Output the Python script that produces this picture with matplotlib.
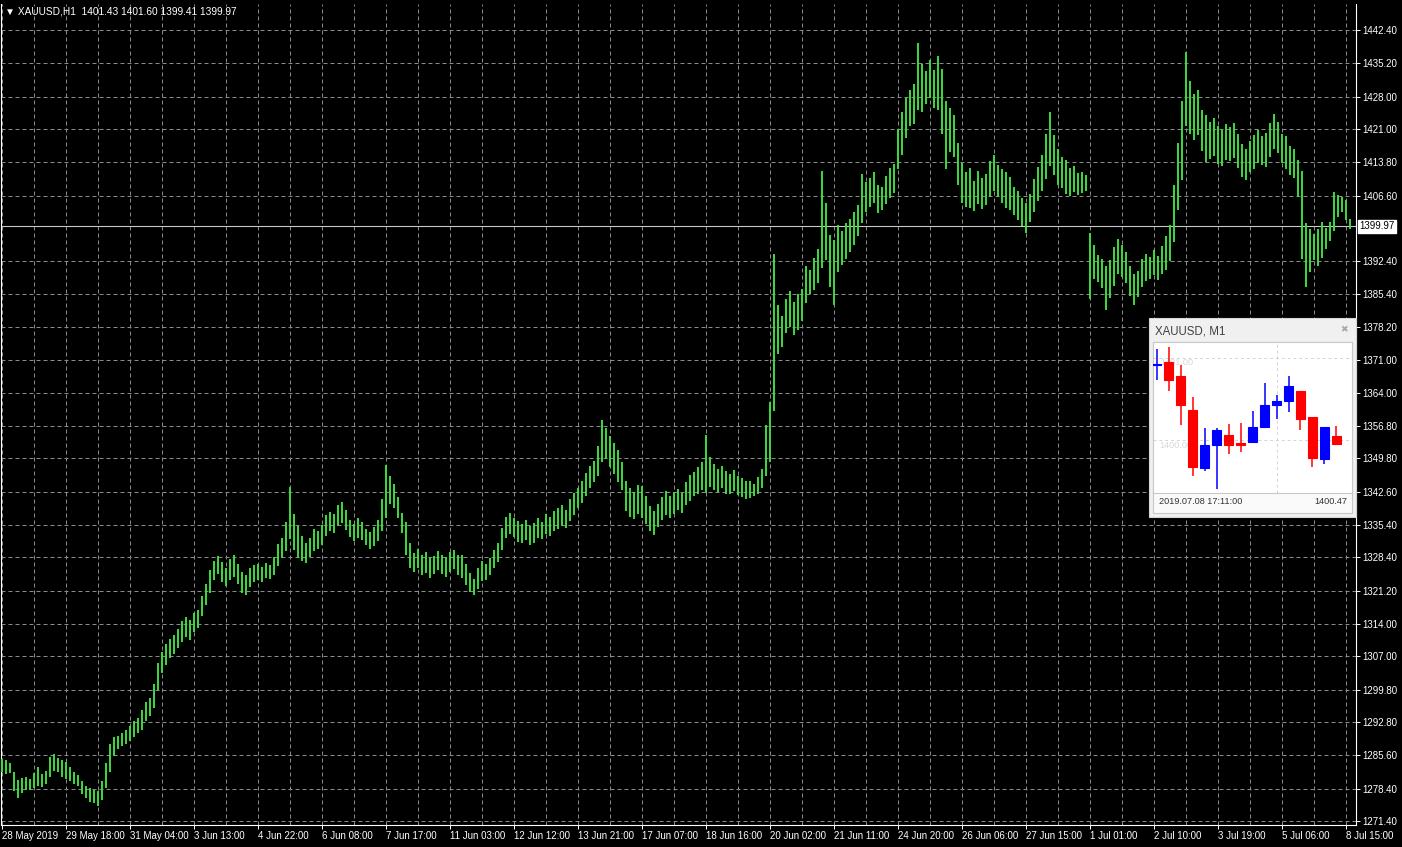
import numpy as np
import matplotlib.pyplot as plt
from matplotlib.patches import Rectangle
from matplotlib.transforms import blended_transform_factory

plt.rcParams['font.family'] = ['Liberation Sans', 'DejaVu Sans']

# XAUUSD H1 - highs / lows, one bar every 2 hours
high = [
    1284.8, 1284.5, 1284.0, 1282.0, 1280.2, 1280.6, 1280.9, 1280.4, 1281.8, 1283.0, 1281.5, 1282.2, 1285.2, 1285.8, 1285.0, 1284.6,
    1284.2, 1283.0, 1282.0, 1281.4, 1280.0, 1279.0, 1278.6, 1278.2, 1277.8, 1280.0, 1284.0, 1288.0, 1289.6, 1289.8, 1290.4, 1291.0,
    1292.0, 1293.0, 1293.6, 1295.4, 1297.2, 1298.0, 1301.0, 1305.6, 1308.0, 1309.6, 1310.8, 1311.6, 1313.0, 1314.6, 1315.4, 1314.8,
    1316.4, 1317.0, 1320.0, 1322.6, 1325.6, 1327.6, 1328.6, 1327.4, 1326.0, 1328.0, 1328.8, 1327.0, 1325.2, 1324.6, 1326.0, 1326.8,
    1327.0, 1326.4, 1327.2, 1326.8, 1328.4, 1331.2, 1332.6, 1336.0, 1343.6, 1337.8, 1335.2, 1333.0, 1331.6, 1332.6, 1334.6, 1334.0,
    1335.4, 1337.6, 1338.2, 1337.8, 1339.8, 1340.4, 1338.6, 1336.4, 1335.6, 1336.8, 1336.0, 1334.6, 1333.8, 1335.0, 1336.4, 1341.0,
    1348.4, 1346.0, 1344.2, 1341.4, 1338.0, 1336.0, 1331.4, 1329.4, 1330.2, 1328.8, 1329.6, 1328.2, 1328.6, 1329.8, 1329.0, 1328.4,
    1329.6, 1330.0, 1329.0, 1328.8, 1327.0, 1325.0, 1323.8, 1326.0, 1327.6, 1327.0, 1328.2, 1330.0, 1331.4, 1334.8, 1337.2, 1338.0,
    1337.0, 1336.2, 1335.6, 1336.4, 1335.2, 1335.8, 1336.8, 1336.0, 1337.8, 1337.2, 1338.4, 1339.0, 1339.8, 1338.6, 1341.0, 1342.4,
    1343.4, 1345.0, 1346.6, 1348.2, 1349.2, 1352.4, 1358.0, 1356.4, 1354.6, 1353.2, 1351.6, 1349.0, 1345.0, 1343.4, 1342.6, 1344.0,
    1343.8, 1341.6, 1339.4, 1338.4, 1340.0, 1341.4, 1342.8, 1341.6, 1342.6, 1343.2, 1342.4, 1344.6, 1346.2, 1346.8, 1348.0, 1349.0,
    1354.8, 1350.0, 1348.6, 1347.4, 1348.2, 1347.0, 1346.4, 1347.2, 1346.0, 1345.6, 1345.0, 1344.8, 1344.2, 1345.8, 1347.6, 1357.0,
    1362.0, 1394.0, 1383.0, 1380.6, 1384.2, 1386.0, 1383.6, 1385.4, 1386.4, 1391.4, 1390.6, 1393.2, 1395.0, 1412.0, 1405.0, 1398.0,
    1397.0, 1400.2, 1399.0, 1400.6, 1401.6, 1403.0, 1404.6, 1411.2, 1409.6, 1410.4, 1411.6, 1409.0, 1408.4, 1410.8, 1412.6, 1413.4,
    1421.0, 1424.6, 1427.6, 1429.4, 1430.8, 1439.6, 1435.0, 1433.6, 1436.0, 1433.8, 1436.8, 1434.0, 1427.0, 1425.6, 1424.0, 1418.0,
    1413.6, 1411.6, 1412.6, 1409.8, 1412.0, 1410.4, 1411.2, 1414.0, 1415.4, 1413.2, 1412.4, 1411.8, 1410.6, 1408.4, 1407.6, 1406.0,
    1405.0, 1407.0, 1410.2, 1412.8, 1415.4, 1420.0, 1424.6, 1419.6, 1416.6, 1415.0, 1414.2, 1412.6, 1413.0, 1411.4, 1411.8, 1411.0,
    1398.6, 1396.0, 1393.8, 1393.0, 1391.4, 1392.6, 1395.4, 1397.2, 1396.0, 1394.4, 1391.4, 1389.6, 1390.2, 1392.8, 1394.0, 1393.4,
    1394.8, 1393.6, 1395.6, 1397.8, 1400.2, 1409.0, 1418.0, 1427.0, 1437.6, 1431.4, 1428.6, 1429.4, 1425.2, 1424.0, 1422.6, 1423.4,
    1421.6, 1420.8, 1422.0, 1421.4, 1422.2, 1420.0, 1417.8, 1416.6, 1418.4, 1419.6, 1420.8, 1419.4, 1420.2, 1422.2, 1424.2, 1422.6,
    1420.0, 1419.4, 1417.4, 1416.6, 1414.2, 1412.0, 1400.6, 1399.4, 1398.2, 1399.4, 1400.8, 1399.6, 1401.0, 1407.4, 1406.8, 1406.2,
    1405.6, 1401.6,
]
low = [
    1282.0, 1281.6, 1281.8, 1277.8, 1276.4, 1277.5, 1278.2, 1278.0, 1278.6, 1279.0, 1278.8, 1279.5, 1281.0, 1282.2, 1282.0, 1281.0,
    1280.5, 1280.0, 1279.4, 1279.0, 1277.2, 1276.4, 1275.6, 1275.2, 1274.6, 1276.0, 1278.5, 1282.0, 1285.5, 1287.0, 1287.6, 1288.0,
    1288.6, 1289.5, 1290.4, 1291.0, 1293.0, 1294.2, 1295.8, 1299.8, 1303.4, 1305.2, 1306.6, 1307.4, 1308.8, 1310.0, 1311.2, 1310.6,
    1312.2, 1313.2, 1315.8, 1318.0, 1320.8, 1323.6, 1324.8, 1323.0, 1322.2, 1323.6, 1324.2, 1322.6, 1320.6, 1320.2, 1322.0, 1323.0,
    1323.6, 1323.0, 1324.0, 1323.8, 1324.6, 1326.6, 1328.2, 1329.8, 1332.4, 1330.0, 1328.2, 1327.6, 1327.2, 1328.4, 1329.8, 1330.2,
    1331.0, 1333.0, 1334.2, 1333.6, 1335.2, 1335.8, 1334.4, 1332.8, 1332.0, 1332.6, 1332.2, 1331.0, 1330.2, 1330.8, 1332.0, 1334.0,
    1337.0, 1340.0, 1339.0, 1336.8, 1333.6, 1329.0, 1326.2, 1325.2, 1326.0, 1324.6, 1325.0, 1324.0, 1324.8, 1325.6, 1324.8, 1324.2,
    1325.2, 1325.8, 1324.6, 1324.0, 1322.4, 1321.0, 1320.2, 1321.6, 1323.2, 1323.4, 1324.6, 1326.2, 1327.4, 1330.0, 1332.6, 1333.4,
    1332.8, 1331.8, 1331.4, 1332.2, 1331.0, 1331.6, 1332.6, 1332.4, 1333.4, 1333.0, 1334.2, 1334.6, 1335.2, 1334.8, 1336.2, 1337.6,
    1339.0, 1340.2, 1341.6, 1343.4, 1344.6, 1346.0, 1349.0, 1349.6, 1348.0, 1346.4, 1344.6, 1343.0, 1338.4, 1337.2, 1336.6, 1337.8,
    1337.0, 1335.6, 1334.0, 1333.2, 1335.0, 1336.4, 1337.6, 1337.0, 1337.8, 1338.6, 1338.0, 1339.8, 1340.6, 1341.6, 1342.0, 1343.0,
    1342.4, 1343.6, 1343.0, 1342.6, 1343.4, 1342.2, 1342.0, 1342.8, 1341.8, 1341.4, 1341.0, 1341.2, 1341.6, 1342.0, 1343.4, 1346.0,
    1349.0, 1360.0, 1372.4, 1373.8, 1377.0, 1378.2, 1376.4, 1377.6, 1379.6, 1383.4, 1385.4, 1386.2, 1387.6, 1391.0, 1392.6, 1386.8,
    1383.0, 1390.0, 1391.6, 1393.0, 1394.4, 1396.0, 1397.8, 1400.6, 1403.0, 1404.2, 1405.0, 1402.8, 1403.4, 1404.8, 1406.0, 1407.2,
    1412.4, 1415.4, 1419.0, 1421.6, 1422.0, 1425.0, 1424.6, 1426.4, 1427.8, 1425.6, 1425.0, 1420.0, 1412.4, 1416.0, 1415.0, 1408.8,
    1405.0, 1404.2, 1404.0, 1403.2, 1404.8, 1403.6, 1404.6, 1406.2, 1407.6, 1406.4, 1405.0, 1404.0, 1403.4, 1402.4, 1401.4, 1400.0,
    1398.6, 1400.8, 1403.0, 1405.4, 1407.6, 1410.2, 1413.0, 1411.0, 1409.0, 1408.2, 1407.0, 1406.6, 1407.4, 1406.8, 1407.2, 1407.6,
    1384.2, 1388.6, 1388.0, 1386.6, 1381.8, 1384.4, 1387.0, 1389.6, 1389.0, 1387.6, 1385.0, 1383.0, 1384.6, 1386.8, 1388.2, 1388.6,
    1389.4, 1388.4, 1389.6, 1390.6, 1392.4, 1396.6, 1403.4, 1410.0, 1421.6, 1420.0, 1418.6, 1419.6, 1416.2, 1413.8, 1414.6, 1415.2,
    1413.4, 1413.0, 1414.4, 1414.0, 1414.8, 1412.6, 1410.6, 1410.0, 1411.6, 1412.4, 1413.6, 1413.2, 1412.8, 1415.0, 1416.6, 1415.8,
    1413.6, 1412.4, 1411.0, 1410.4, 1406.2, 1393.0, 1386.8, 1390.0, 1392.6, 1391.4, 1393.2, 1395.0, 1396.8, 1399.0, 1402.0, 1403.0,
    1401.4, 1399.41,
]
last_price = 1399.97

time_labels = ["28 May 2019", "29 May 18:00", "31 May 04:00", "3 Jun 13:00", "4 Jun 22:00",
               "6 Jun 08:00", "7 Jun 17:00", "11 Jun 03:00", "12 Jun 12:00", "13 Jun 21:00",
               "17 Jun 07:00", "18 Jun 16:00", "20 Jun 02:00", "21 Jun 11:00", "24 Jun 20:00",
               "26 Jun 06:00", "27 Jun 15:00", "1 Jul 01:00", "2 Jul 10:00", "3 Jul 19:00",
               "5 Jul 06:00", "8 Jul 15:00"]
price_ticks = [1442.40, 1435.20, 1428.00, 1421.00, 1413.80, 1406.60, 1392.40, 1385.40,
               1378.20, 1371.00, 1364.00, 1356.80, 1349.80, 1342.60, 1335.40, 1328.40, 1321.20,
               1314.00, 1307.00, 1299.80, 1292.80, 1285.60, 1278.40, 1271.40]

# M1 popup candles
m1_open = [1400.92, 1400.95, 1400.78, 1400.36, 1399.65, 1399.93, 1400.06, 1399.96,
           1399.97, 1400.16, 1400.43, 1400.47, 1400.59, 1400.28, 1399.76, 1400.05]
m1_close = [1400.93, 1400.73, 1400.43, 1399.67, 1399.93, 1400.12, 1399.93, 1399.94,
            1400.16, 1400.42, 1400.47, 1400.66, 1400.25, 1399.77, 1400.15, 1399.95]
m1_high = [1401.11, 1401.14, 1400.92, 1400.52, 1400.14, 1400.14, 1400.19, 1400.20,
           1400.35, 1400.70, 1400.55, 1400.78, 1400.59, 1400.28, 1400.16, 1400.17]
m1_low = [1400.73, 1400.60, 1400.18, 1399.55, 1399.62, 1399.39, 1399.83, 1399.85,
          1399.97, 1400.16, 1400.25, 1400.34, 1400.12, 1399.66, 1399.70, 1399.93]

W, H = 1402, 847
fig = plt.figure(figsize=(W / 100, H / 100), dpi=100, facecolor="black")
ax = fig.add_axes([1 / W, 22 / H, 1355 / W, 821 / H])
ax.set_facecolor("black")

t = np.arange(len(high)) * 2
ax.vlines(t, low, high, colors="#3ddc3d", lw=1.4, zorder=3)
ax.set_xlim(-0.5, 677)
ax.set_ylim(1270.54, 1448.02)

# grid
grid_kw = dict(color="#8a8a8a", lw=0.72, linestyle=(0, (4, 3)), zorder=1)
for gx in range(0, 673, 16):
    ax.axvline(gx, **grid_kw)
for gy in price_ticks:
    ax.axhline(gy, **grid_kw)

ax.axhline(last_price, color="#c8c8c8", lw=0.8, zorder=2)

ax.set_xticks(np.arange(len(time_labels)) * 32)
ax.set_xticklabels(time_labels)
for lab in ax.get_xticklabels():
    lab.set_ha("left")
ax.tick_params(axis="x", colors="white", labelsize=7, length=3, width=0.7, pad=1)

ax.yaxis.tick_right()
ax.set_yticks(price_ticks)
ax.set_yticklabels([f"{p:.2f}" for p in price_ticks])
ax.tick_params(axis="y", colors="white", labelsize=7, length=3, width=0.7, pad=1.5)

for side in ["left", "right", "bottom"]:
    ax.spines[side].set_color("white")
    ax.spines[side].set_linewidth(0.8)
ax.spines["top"].set_visible(False)

trans = blended_transform_factory(ax.transAxes, ax.transData)
ax.annotate(f"{last_price:.2f}", xy=(1, last_price), xycoords=trans, xytext=(2.5, 0),
            textcoords="offset points", va="center", ha="left", fontsize=7, color="black",
            bbox=dict(boxstyle="square,pad=0.15", fc="white", ec="white"), annotation_clip=False)

fig.text(5 / W, 1 - 12 / H, "\u25bc XAUUSD,H1  1401.43 1401.60 1399.41 1399.97",
         color="white", fontsize=7.3, va="center")

# popup window with M1 chart
fig.add_artist(Rectangle((1149 / W, 1 - 517 / H), 207 / W, 199 / H, transform=fig.transFigure,
                         fc="#f0f0f0", ec="#d4d4d4", lw=0.8, zorder=5))
fig.add_artist(Rectangle((1153 / W, 1 - 513 / H), 199 / W, 171 / H, transform=fig.transFigure,
                         fc="#fafafa", ec="#c8c8c8", lw=0.8, zorder=6))
fig.text(1155 / W, 1 - 331 / H, "XAUUSD, M1", color="#404040", fontsize=8.3, va="center", zorder=7)
fig.text(1344 / W, 1 - 330 / H, "\u2716", color="#a8a8a8", fontsize=6.5, ha="center", va="center",
         family="DejaVu Sans", zorder=7)
fig.text(1159 / W, 1 - 502 / H, "2019.07.08 17:11:00", color="#333333", fontsize=6.6, va="center", zorder=7)
fig.text(1347 / W, 1 - 502 / H, "1400.47", color="#333333", fontsize=6.6, ha="right", va="center", zorder=7)

ax2 = fig.add_axes([1153 / W, (H - 493) / H, 199 / W, 151 / H], zorder=8)
ax2.set_facecolor("white")
ax2.set_xlim(-0.31, 16.3)
ax2.set_ylim(1399.347, 1401.196)
ax2.set_xticks([])
ax2.set_yticks([])
for s in ax2.spines.values():
    s.set_color("#c8c8c8")
    s.set_linewidth(0.8)
for gy in [1401.0, 1400.0]:
    ax2.axhline(gy, color="#d4d4d4", lw=0.7, linestyle=(0, (3, 3)), zorder=0)
ax2.axvline(10, color="#d4d4d4", lw=0.7, linestyle=(0, (3, 3)), zorder=0)
ax2.text(0.27, 1400.94, "1401.00", color="#d8d8d8", fontsize=6.6, va="center", zorder=0)
ax2.text(0.2, 1399.93, "1400.00", color="#d8d8d8", fontsize=6.6, va="center", zorder=0)

xs = np.arange(len(m1_open))
o = np.array(m1_open)
c = np.array(m1_close)
cols = ["#0000ff" if cc >= oo else "#ff0000" for oo, cc in zip(o, c)]
ax2.vlines(xs, m1_low, m1_high, colors=cols, lw=1.1, zorder=2)
ax2.bar(xs, c - o, bottom=o, width=0.75, color=cols, edgecolor=cols, lw=0.8, zorder=3)

fig.savefig("out.png", dpi=100, facecolor="black")
